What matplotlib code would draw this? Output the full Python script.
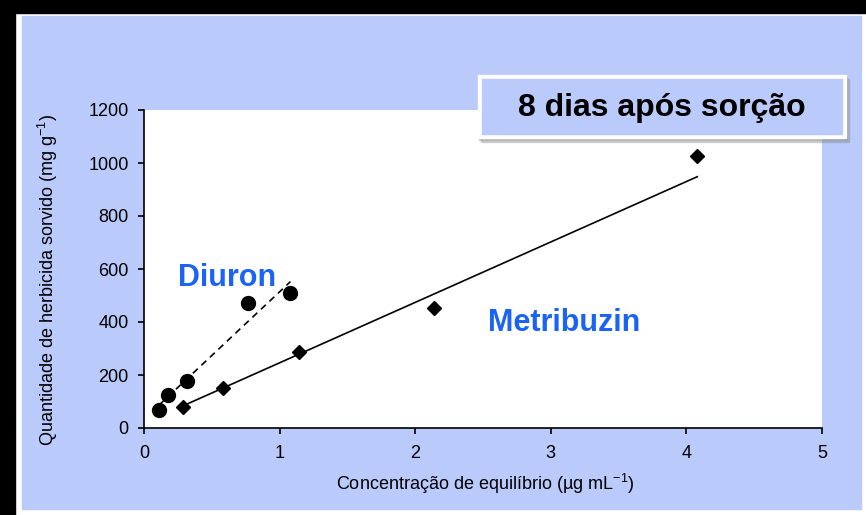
import matplotlib
matplotlib.use("Agg")
import matplotlib.pyplot as plt
from matplotlib.patches import Rectangle
import numpy as np

plt.rcParams['font.family'] = ['Liberation Sans', 'DejaVu Sans']
plt.rcParams['mathtext.fontset'] = 'custom'
plt.rcParams['mathtext.rm'] = 'Liberation Sans'

# ---------- data
diuron_x = [0.11, 0.18, 0.32, 0.77, 1.08]
diuron_y = [68, 125, 177, 472, 509]
metri_x = [0.29, 0.58, 1.14, 2.14, 4.08]
metri_y = [79, 151, 287, 453, 1026]
# fitted lines (slope, intercept) as shown in the picture
diuron_fit = (481, 33)
metri_fit = (228, 18)

x_ticks = [0, 1, 2, 3, 4, 5]
y_ticks = [0, 200, 400, 600, 800, 1000, 1200]

panel_blue = '#B9CAFB'
label_blue = '#1A63F5'

W, H = 866, 515
fig = plt.figure(figsize=(W / 100, H / 100), dpi=100, facecolor='white')


def px_rect(x0, y0, x1, y1, **kw):
    ''' rectangle in pixels, measured from the top-left corner '''
    r = Rectangle((x0 / W, 1 - y1 / H), (x1 - x0) / W, (y1 - y0) / H,
                  transform=fig.transFigure, **kw)
    fig.add_artist(r)
    return r


# black frame + light blue panel
px_rect(0, 0, W, 13, color='black', zorder=0)
px_rect(0, 0, 15, H, color='black', zorder=0)
px_rect(22, 16, 861, 509, color=panel_blue, zorder=0)

ax = fig.add_axes([144 / W, 87 / H, 678 / W, 318 / H])
ax.set_facecolor('white')

# points
ax.plot(diuron_x, diuron_y, 'o', color='black', markersize=10, zorder=3)
ax.plot(metri_x, metri_y, 'D', color='black', markersize=7.5, zorder=3)

# trend lines
dx = np.array([min(diuron_x), max(diuron_x)])
ax.plot(dx, diuron_fit[0] * dx + diuron_fit[1], '--', color='black', lw=1.2, dashes=(4, 3))
mx = np.array([min(metri_x), max(metri_x)])
ax.plot(mx, metri_fit[0] * mx + metri_fit[1], '-', color='black', lw=1.2)

ax.set_xlim(0, 5)
ax.set_ylim(0, 1200)
ax.set_xticks(x_ticks)
ax.set_yticks(y_ticks)
ax.spines['top'].set_visible(False)
ax.spines['right'].set_visible(False)
for s in ('left', 'bottom'):
    ax.spines[s].set_linewidth(1.2)
ax.tick_params(direction='out', length=4, width=1.2, labelsize=13, colors='black')
ax.tick_params(axis='x', pad=8)
ax.tick_params(axis='y', pad=7)

ax.set_xlabel('Concentração de equilíbrio (µg mL$^{-1}$)', fontsize=13)
ax.xaxis.set_label_coords(0.503, -0.138)
ax.set_ylabel('Quantidade de herbicida sorvido (mg g$^{-1}$)', fontsize=13, va='center')
ax.yaxis.set_label_coords(-0.1416, 0.465)

ax.text(0.612, 566, 'Diuron', color=label_blue, fontsize=22, fontweight='bold',
        ha='center', va='center')
ax.text(3.10, 396, 'Metribuzin', color=label_blue, fontsize=22, fontweight='bold',
        ha='center', va='center')

# title box with a soft shadow
px_rect(481, 79, 849, 142, color='#8A8A8A', alpha=0.35, zorder=5)
px_rect(479, 77, 847, 140, color='#8A8A8A', alpha=0.35, zorder=5)
px_rect(478, 75, 846, 138, color='white', zorder=6)
px_rect(482, 79, 842, 134, color=panel_blue, zorder=7)
fig.text(662 / W, 1 - 108 / H, '8 dias após sorção', fontsize=23,
         fontweight='bold', ha='center', va='center', zorder=8)

fig.savefig('out.png', dpi=100, facecolor='white')
